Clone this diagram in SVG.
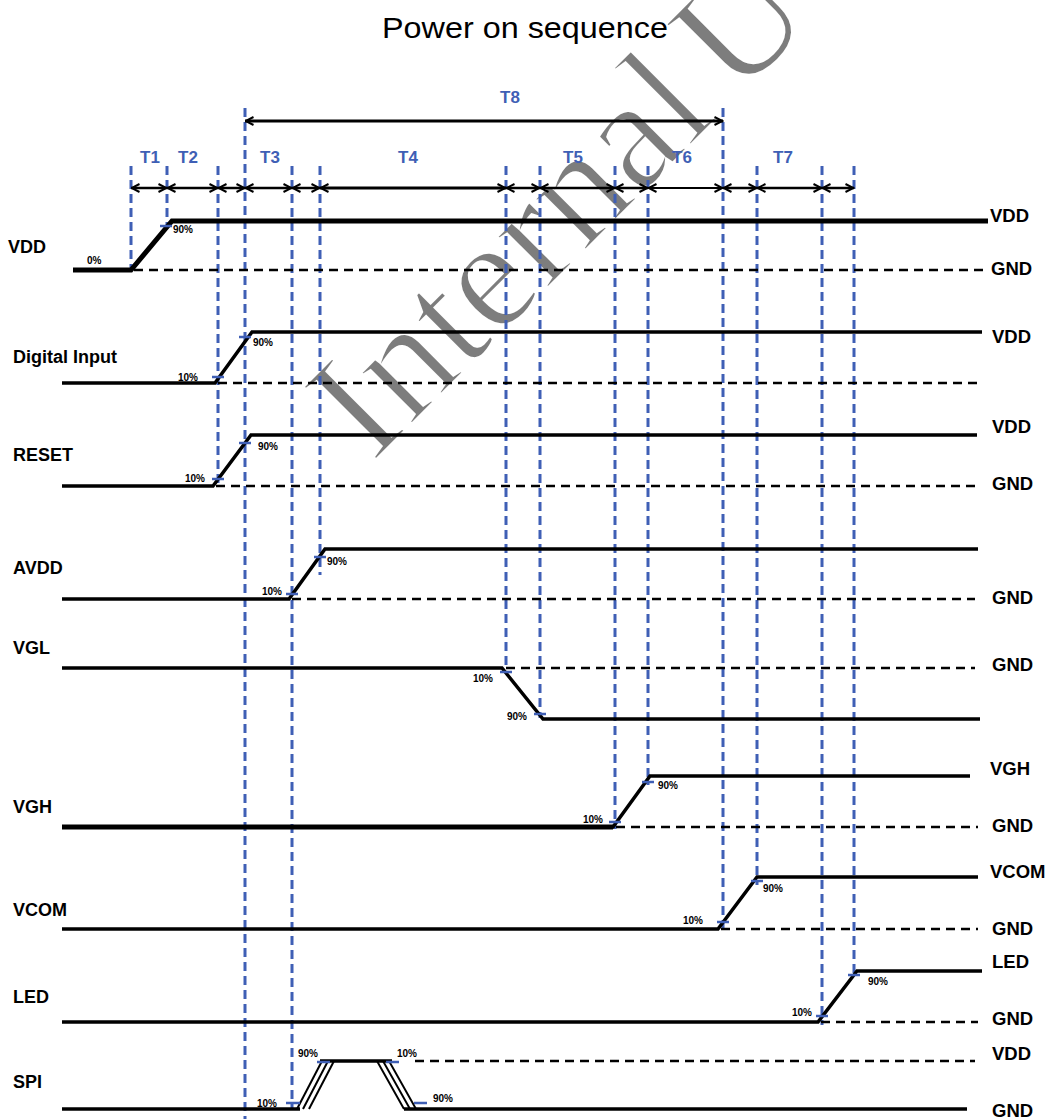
<svg xmlns="http://www.w3.org/2000/svg" width="1047" height="1119" viewBox="0 0 1047 1119">
<style>
.sig{fill:none;stroke:#000;stroke-width:3.5;stroke-linejoin:miter}
.thick{stroke-width:5}
.gnd{fill:none;stroke:#000;stroke-width:2.5;stroke-dasharray:9 6}
.vl{stroke:#3f5fb5;stroke-width:3;stroke-dasharray:9 5}
.tick{stroke:#3f5fb5;stroke-width:2.5}
.lbl{font-family:"Liberation Sans",Arial,sans-serif;font-weight:bold;font-size:18px;fill:#000}
.rl{font-family:"Liberation Sans",Arial,sans-serif;font-weight:bold;font-size:18.5px;fill:#000}
.pct{font-family:"Liberation Sans",Arial,sans-serif;font-weight:bold;font-size:10px;fill:#000}
.tl{font-family:"Liberation Sans",Arial,sans-serif;font-weight:bold;font-size:17px;fill:#3f5fb5}
.arr{stroke:#000;stroke-width:2.5;marker-start:url(#ah);marker-end:url(#ah)}
.spi{fill:none;stroke:#000;stroke-width:2}
</style>
<defs>
<marker id="ah" viewBox="0 0 10 10" refX="9.5" refY="5" markerWidth="10" markerHeight="10" markerUnits="userSpaceOnUse" orient="auto-start-reverse">
<path d="M1,1 L9,5 L1,9" fill="none" stroke="#000" stroke-width="2"/>
</marker>
</defs>
<rect width="1047" height="1119" fill="#fff"/>

<g id="watermark">
<text transform="translate(372,464) rotate(-45)" font-family="Liberation Serif, Times New Roman, serif" font-size="158" fill="#666" fill-opacity="0.85" stroke="#fff" stroke-width="3">Internal<tspan dx="24">U</tspan></text>
</g>

<text id="title" x="525" y="38" text-anchor="middle" font-family="Liberation Sans, Arial, sans-serif" font-size="29" fill="#000" textLength="286" lengthAdjust="spacingAndGlyphs">Power on sequence</text>

<g id="guides">
<line class="vl" x1="131" y1="166" x2="131" y2="270"/>
<line class="vl" x1="167" y1="166" x2="167" y2="228"/>
<line class="vl" x1="218" y1="166" x2="218" y2="486"/>
<line class="vl" x1="245" y1="108" x2="245" y2="1119"/>
<line class="vl" x1="292" y1="166" x2="292" y2="1109"/>
<line class="vl" x1="320" y1="166" x2="320" y2="575"/>
<line class="vl" x1="506" y1="166" x2="506" y2="670"/>
<line class="vl" x1="540" y1="166" x2="540" y2="718"/>
<line class="vl" x1="615" y1="166" x2="615" y2="829"/>
<line class="vl" x1="648" y1="166" x2="648" y2="785"/>
<line class="vl" x1="723" y1="108" x2="723" y2="932"/>
<line class="vl" x1="757" y1="166" x2="757" y2="885"/>
<line class="vl" x1="822" y1="166" x2="822" y2="1025"/>
<line class="vl" x1="854" y1="166" x2="854" y2="975"/>
</g>

<g id="connectors">
<line class="arr" x1="245" y1="121" x2="723" y2="121" style="stroke-width:3"/>
<line class="arr" x1="131" y1="188" x2="167" y2="188"/>
<line class="arr" x1="167" y1="188" x2="218" y2="188"/>
<line class="arr" x1="218" y1="188" x2="245" y2="188"/>
<line class="arr" x1="245" y1="188" x2="292" y2="188"/>
<line class="arr" x1="292" y1="188" x2="320" y2="188"/>
<line class="arr" x1="320" y1="188" x2="506" y2="188" style="stroke-width:3"/>
<line class="arr" x1="506" y1="188" x2="540" y2="188"/>
<line class="arr" x1="540" y1="188" x2="615" y2="188"/>
<line class="arr" x1="615" y1="188" x2="648" y2="188"/>
<line class="arr" x1="648" y1="188" x2="723" y2="188" style="stroke-width:2"/>
<line class="arr" x1="723" y1="188" x2="757" y2="188"/>
<line class="arr" x1="757" y1="188" x2="822" y2="188"/>
<line class="arr" x1="822" y1="188" x2="854" y2="188"/>
</g>

<g id="timing-labels">
<text class="tl" x="510" y="103" text-anchor="middle">T8</text>
<text class="tl" x="150" y="163" text-anchor="middle">T1</text>
<text class="tl" x="188" y="163" text-anchor="middle">T2</text>
<text class="tl" x="270" y="163" text-anchor="middle">T3</text>
<text class="tl" x="408" y="163" text-anchor="middle">T4</text>
<text class="tl" x="573" y="163" text-anchor="middle">T5</text>
<text class="tl" x="682" y="163" text-anchor="middle">T6</text>
<text class="tl" x="783" y="163" text-anchor="middle">T7</text>
</g>

<g id="sig-vdd">
<text class="lbl" x="8" y="253">VDD</text>
<polyline class="sig" points="73,270 131,270 172,221 988,221" style="stroke-width:5"/>
<line class="gnd" x1="134" y1="270" x2="988" y2="270"/>
<line class="tick" x1="160" y1="226" x2="172" y2="226"/>
<text class="pct" x="87" y="264">0%</text>
<text class="pct" x="173" y="233">90%</text>
<text class="rl" x="990" y="222">VDD</text>
<text class="rl" x="991" y="275">GND</text>
</g>

<g id="sig-digital-input">
<text class="lbl" x="13" y="363">Digital Input</text>
<polyline class="sig" points="62,383 215,383 252,332 982,332"/>
<line class="gnd" x1="218" y1="383" x2="978" y2="383"/>
<line class="tick" x1="212" y1="377" x2="224" y2="377"/>
<line class="tick" x1="239" y1="337" x2="251" y2="337"/>
<text class="pct" x="178" y="381">10%</text>
<text class="pct" x="253" y="346">90%</text>
<text class="rl" x="992" y="343">VDD</text>
</g>

<g id="sig-reset">
<text class="lbl" x="13" y="461">RESET</text>
<polyline class="sig" points="62,486 213,486 251,435 977,435"/>
<line class="gnd" x1="216" y1="486" x2="975" y2="486"/>
<line class="tick" x1="212" y1="479" x2="224" y2="479"/>
<line class="tick" x1="239" y1="443" x2="251" y2="443"/>
<text class="pct" x="185" y="482">10%</text>
<text class="pct" x="258" y="450">90%</text>
<text class="rl" x="992" y="433">VDD</text>
<text class="rl" x="992" y="490">GND</text>
</g>

<g id="sig-avdd">
<text class="lbl" x="13" y="574">AVDD</text>
<polyline class="sig" points="62,599 289,599 325,549 978,549"/>
<line class="gnd" x1="292" y1="599" x2="975" y2="599"/>
<line class="tick" x1="286" y1="594" x2="298" y2="594"/>
<line class="tick" x1="314" y1="557" x2="326" y2="557"/>
<text class="pct" x="262" y="595">10%</text>
<text class="pct" x="327" y="565">90%</text>
<text class="rl" x="992" y="604">GND</text>
</g>

<g id="sig-vgl">
<text class="lbl" x="13" y="654">VGL</text>
<polyline class="sig" points="62,668 502,668 543,719 980,719"/>
<line class="gnd" x1="506" y1="668" x2="975" y2="668"/>
<line class="tick" x1="500" y1="672" x2="512" y2="672"/>
<line class="tick" x1="534" y1="714" x2="546" y2="714"/>
<text class="pct" x="473" y="682">10%</text>
<text class="pct" x="507" y="720">90%</text>
<text class="rl" x="992" y="671">GND</text>
</g>

<g id="sig-vgh">
<text class="lbl" x="13" y="813">VGH</text>
<polyline class="sig" points="62,827 613,827 650,776 970,776"/>
<line class="sig thick" x1="62" y1="827" x2="613" y2="827"/>
<line class="gnd" x1="616" y1="827" x2="978" y2="827"/>
<line class="tick" x1="609" y1="822" x2="621" y2="822"/>
<line class="tick" x1="642" y1="782" x2="654" y2="782"/>
<text class="pct" x="583" y="823">10%</text>
<text class="pct" x="658" y="789">90%</text>
<text class="rl" x="990" y="775">VGH</text>
<text class="rl" x="992" y="832">GND</text>
</g>

<g id="sig-vcom">
<text class="lbl" x="13" y="916">VCOM</text>
<polyline class="sig" points="62,929 718,929 757,877 978,877"/>
<line class="gnd" x1="721" y1="929" x2="978" y2="929"/>
<line class="tick" x1="717" y1="922" x2="729" y2="922"/>
<line class="tick" x1="751" y1="881" x2="763" y2="881"/>
<text class="pct" x="683" y="924">10%</text>
<text class="pct" x="763" y="892">90%</text>
<text class="rl" x="990" y="878">VCOM</text>
<text class="rl" x="992" y="935">GND</text>
</g>

<g id="sig-led">
<text class="lbl" x="13" y="1003">LED</text>
<polyline class="sig" points="62,1022 818,1022 857,971 982,971"/>
<line class="gnd" x1="821" y1="1022" x2="978" y2="1022"/>
<line class="tick" x1="816" y1="1016" x2="828" y2="1016"/>
<line class="tick" x1="848" y1="975" x2="860" y2="975"/>
<text class="pct" x="792" y="1016">10%</text>
<text class="pct" x="868" y="985">90%</text>
<text class="rl" x="992" y="968">LED</text>
<text class="rl" x="992" y="1025">GND</text>
</g>

<g id="sig-spi">
<text class="lbl" x="13" y="1088">SPI</text>
<line class="sig" x1="62" y1="1109" x2="300" y2="1109"/>
<line class="spi" x1="297" y1="1109" x2="322" y2="1061"/>
<line class="spi" x1="303" y1="1109" x2="328" y2="1061"/>
<line class="spi" x1="309" y1="1109" x2="334" y2="1061"/>
<line class="sig" x1="320" y1="1061" x2="392" y2="1061"/>
<line class="spi" x1="377" y1="1061" x2="404" y2="1109"/>
<line class="spi" x1="383" y1="1061" x2="410" y2="1109"/>
<line class="spi" x1="389" y1="1061" x2="416" y2="1109"/>
<line class="sig" x1="404" y1="1109" x2="967" y2="1109"/>
<line class="gnd" x1="415" y1="1061" x2="975" y2="1061"/>
<line class="tick" x1="286" y1="1103" x2="300" y2="1103"/>
<line class="tick" x1="317" y1="1062" x2="330" y2="1062"/>
<line class="tick" x1="386" y1="1062" x2="399" y2="1062"/>
<line class="tick" x1="414" y1="1103" x2="427" y2="1103"/>
<text class="pct" x="257" y="1107">10%</text>
<text class="pct" x="298" y="1057">90%</text>
<text class="pct" x="397" y="1057">10%</text>
<text class="pct" x="433" y="1102">90%</text>
<text class="rl" x="992" y="1060">VDD</text>
<text class="rl" x="992" y="1117">GND</text>
</g>
</svg>
